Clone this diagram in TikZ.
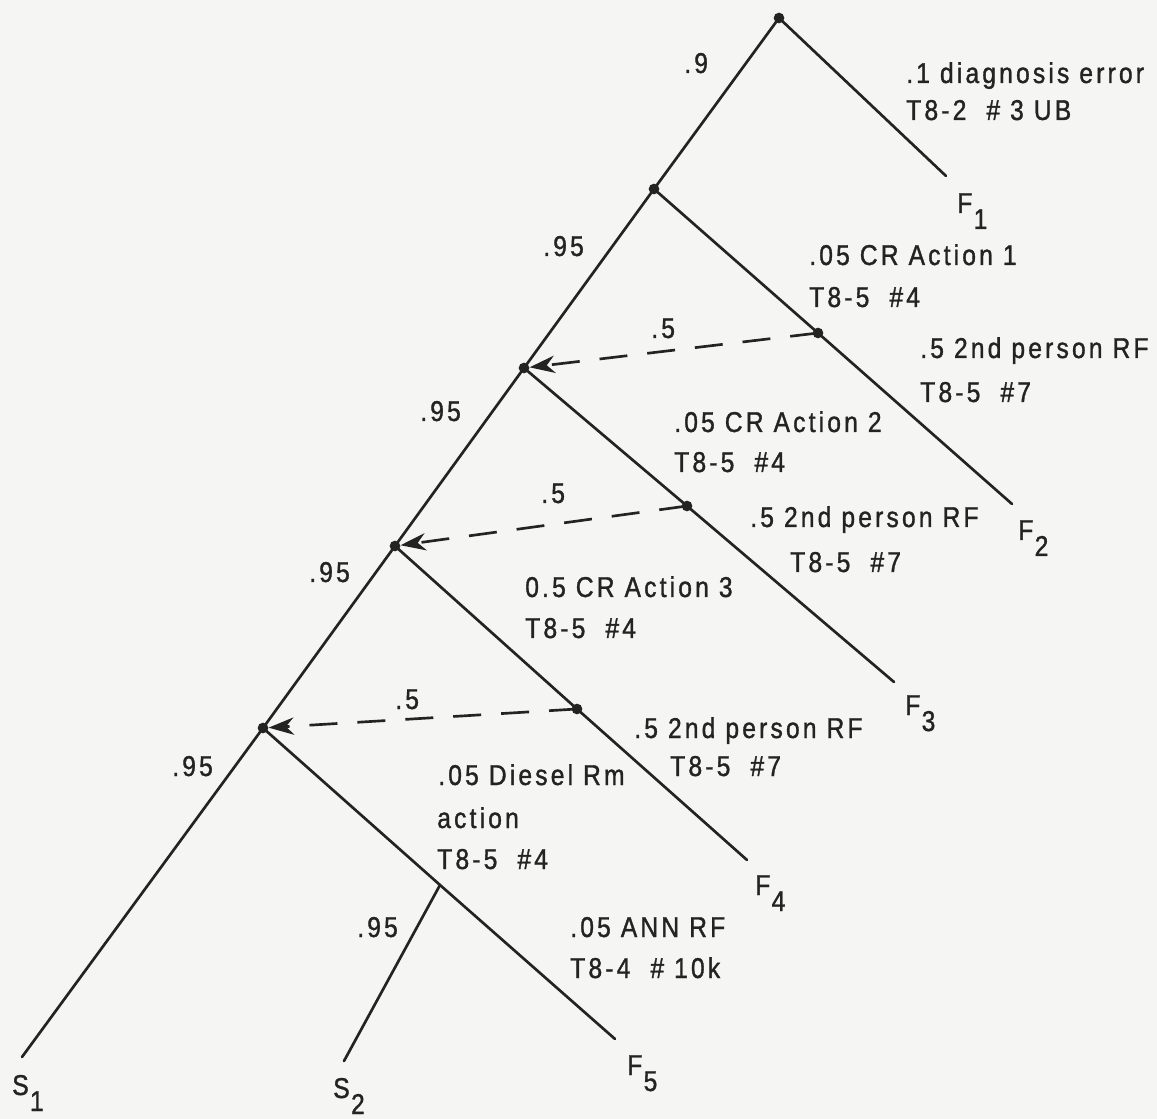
\documentclass[tikz,border=0pt]{standalone}
\usepackage{fontspec}
\setmainfont[FakeStretch=0.86,LetterSpace=11,FakeBold=1.2]{Liberation Sans}
\usetikzlibrary{arrows.meta}
\definecolor{paper}{RGB}{245,245,243}
\definecolor{ink}{RGB}{35,35,35}
\newcommand\lab[2]{#1\kern1pt\raisebox{-12pt}{#2}}
\begin{document}
\begin{tikzpicture}[x=0.75pt,y=-0.75pt,
  br/.style={draw=ink,line width=2pt,line cap=round},
  dot/.style={circle,fill=ink,inner sep=0pt,minimum size=8pt},
  dsh/.style={draw=ink,line width=2pt,dash pattern=on 21pt off 15pt,
     -{Stealth[length=19pt,width=13pt,inset=6pt]},shorten >=0pt},
  txt/.style={anchor=base west,inner sep=0pt,text=ink,
     font=\fontsize{21.5}{24}\selectfont}]
\fill[paper] (0,0) rectangle (1157,1119);
\useasboundingbox (0,0) rectangle (1157,1119);
% main nodes
\node[dot] (n0) at (779,18) {};
\node[dot] (n1) at (654,189) {};
\node[dot] (n2) at (524,368) {};
\node[dot] (n3) at (395,546) {};
\node[dot] (n4) at (263,728) {};
% recovery dots
\node[dot] (r1) at (818,333) {};
\node[dot] (r2) at (687,506) {};
\node[dot] (r3) at (577,709) {};
% ends
\coordinate (s1) at (22,1057);
\coordinate (f1) at (946,176);
\coordinate (f2) at (1012,504);
\coordinate (f3) at (894,682);
\coordinate (f4) at (747,860);
\coordinate (f5) at (615,1039);
\coordinate (j5) at (440,885);
\coordinate (s2) at (344,1061);
% branches
\draw[br] (n0.center) -- (n1.center) -- (n2.center) -- (n3.center) -- (n4.center) -- (s1);
\draw[br] (n0.center) -- (f1);
\draw[br] (n1.center) -- (r1.center) -- (f2);
\draw[br] (n2.center) -- (r2.center) -- (f3);
\draw[br] (n3.center) -- (r3.center) -- (f4);
\draw[br] (n4.center) -- (j5) -- (f5);
\draw[br] (j5) -- (s2);
% recovery arrows
\draw[dsh] (r1.center) -- (n2);
\draw[dsh] (r2.center) -- (n3);
\draw[dsh] (r3.center) -- (n4);
% texts
\node[txt] (t01) at (906,83) {.1 diagnosis error};
\node[txt] (t02) at (906,120) {T8-2\ \ \# 3 UB};
\node[txt] (t03) at (684,73) {.9};
\node[txt] (t04) at (543,256) {.95};
\node[txt] (t05) at (809,265) {.05 CR Action 1};
\node[txt] (t06) at (809,307) {T8-5\ \ \#4};
\node[txt] (t07) at (651,338) {.5};
\node[txt] (t08) at (920,358) {.5 2nd person RF};
\node[txt] (t09) at (920,402) {T8-5\ \ \#7};
\node[txt] (t10) at (420,421) {.95};
\node[txt] (t11) at (674,432) {.05 CR Action 2};
\node[txt] (t12) at (674,472) {T8-5\ \ \#4};
\node[txt] (t13) at (541,503) {.5};
\node[txt] (t14) at (750,527) {.5 2nd person RF};
\node[txt] (t15) at (790,572) {T8-5\ \ \#7};
\node[txt] (t16) at (309,582) {.95};
\node[txt] (t17) at (525,597) {0.5 CR Action 3};
\node[txt] (t18) at (525,638) {T8-5\ \ \#4};
\node[txt] (t19) at (395,709) {.5};
\node[txt] (t20) at (634,738) {.5 2nd person RF};
\node[txt] (t21) at (670,776) {T8-5\ \ \#7};
\node[txt] (t22) at (172,776) {.95};
\node[txt] (t23) at (438,785) {.05 Diesel Rm};
\node[txt] (t24) at (437,828) {action};
\node[txt] (t25) at (437,869) {T8-5\ \ \#4};
\node[txt] (t26) at (357,937) {.95};
\node[txt] (t27) at (570,937) {.05 ANN RF};
\node[txt] (t28) at (570,978) {T8-4\ \ \# 10k};
% outcome labels
\node[txt] (F1) at (957,213) {\lab{F}{1}};
\node[txt] (F2) at (1018,540) {\lab{F}{2}};
\node[txt] (F3) at (905,715) {\lab{F}{3}};
\node[txt] (F4) at (755,895) {\lab{F}{4}};
\node[txt] (F5) at (627,1075) {\lab{F}{5}};
\node[txt] (S1) at (12,1095) {\lab{S}{1}};
\node[txt] (S2) at (333,1098) {\lab{S}{2}};
\end{tikzpicture}
\end{document}
